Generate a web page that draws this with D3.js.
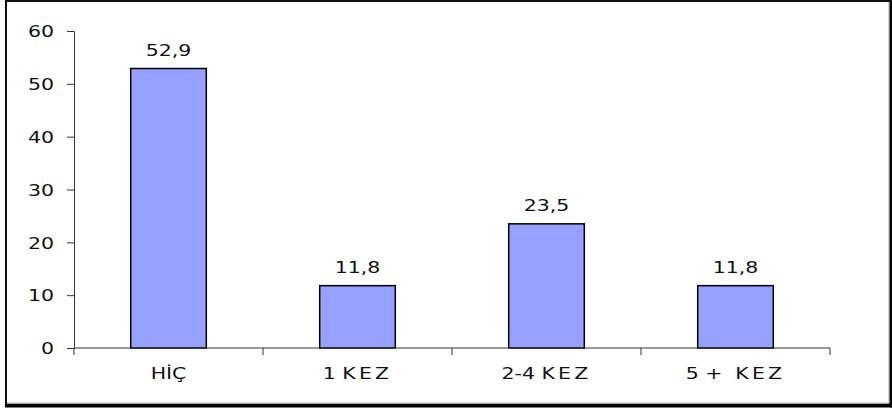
<!DOCTYPE html>
<html>
<head>
<meta charset="utf-8">
<script src="https://cdn.jsdelivr.net/npm/d3@7/dist/d3.min.js"></script>
<style>
  html, body { margin: 0; padding: 0; background: #fff; }
  svg text { font-family: "DejaVu Sans", Verdana, sans-serif; fill: #111; }
</style>
</head>
<body>
<svg id="chart" width="892" height="412"></svg>
<script>
// Category names (number part / spaced word part) and their percentages
const categories = ["HİÇ", "1 KEZ", "2-4 KEZ", "5 +  KEZ"];
const labelHead = ["HİÇ", "1 ", "2-4 ", "5 +  "];
const labelWord = ["", "KEZ", "KEZ", "KEZ"];
const values = [52.9, 11.8, 23.5, 11.8];
const valueLabels = ["52,9", "11,8", "23,5", "11,8"];
const yTicks = [0, 10, 20, 30, 40, 50, 60];

const svg = d3.select("#chart");
const stretch = 1.28; // wide glyphs
const fs = 16;

// Frame: thin gray inner edge on the right/bottom, heavier black outline there
svg.append("rect").attr("x", 6).attr("y", 1).attr("width", 884).attr("height", 403.5)
  .attr("fill", "#fff").attr("stroke", "#111").attr("stroke-width", 2);
svg.append("line").attr("x1", 889).attr("x2", 889).attr("y1", 2).attr("y2", 403)
  .attr("stroke", "#bbb").attr("stroke-width", 1.2);
svg.append("line").attr("x1", 7).attr("x2", 889).attr("y1", 403).attr("y2", 403)
  .attr("stroke", "#bbb").attr("stroke-width", 1.2);
svg.append("line").attr("x1", 891).attr("x2", 891).attr("y1", 0).attr("y2", 407.5)
  .attr("stroke", "#000").attr("stroke-width", 2);
svg.append("line").attr("x1", 5).attr("x2", 892).attr("y1", 406).attr("y2", 406)
  .attr("stroke", "#000").attr("stroke-width", 3);

const x0 = 74, x1 = 830, yBase = 348, yTop = 31;

const x = d3.scaleBand().domain(categories).range([x0, x1]).paddingInner(0.6).paddingOuter(0.3);
const xb = d3.scaleBand().domain(categories).range([x0, x1]);
const y = d3.scaleLinear().domain([0, 60]).range([yBase, yTop]);

// Bars
svg.append("g").selectAll("rect").data(values).join("rect")
  .attr("x", (d, i) => x(categories[i]))
  .attr("y", d => y(d))
  .attr("width", x.bandwidth())
  .attr("height", d => y(0) - y(d))
  .attr("fill", "#95A0FF")
  .attr("stroke", "#000")
  .attr("stroke-width", 1.5);

// Value labels
svg.append("g").selectAll("text").data(values).join("text")
  .attr("transform", (d, i) => `translate(${x(categories[i]) + x.bandwidth() / 2},${y(d) - 13}) scale(${stretch},1)`)
  .attr("text-anchor", "middle")
  .attr("font-size", fs)
  .text((d, i) => valueLabels[i]);

// Y axis
const yAxis = d3.axisLeft(y).tickValues(yTicks).tickSize(7).tickPadding(0).tickFormat(d3.format("d"));
const gy = svg.append("g").attr("transform", `translate(${x0},0)`).call(yAxis);
gy.select(".domain").attr("stroke", "#333");
gy.selectAll(".tick line").attr("stroke", "#333");
gy.selectAll(".tick text").remove();
gy.selectAll(".tick").append("text")
  .attr("transform", `translate(-20,0) scale(${stretch},1)`)
  .attr("text-anchor", "end")
  .attr("dy", "0.36em")
  .attr("font-size", fs)
  .attr("fill", "#111")
  .text(d => d);

// X axis with ticks at the band boundaries
const gx = svg.append("g").attr("transform", `translate(0,${yBase})`);
gx.append("line").attr("x1", x0).attr("x2", x1).attr("stroke", "#333");
const bounds = categories.map(c => xb(c)).concat([x1]);
gx.selectAll("line.tk").data(bounds).join("line").attr("class", "tk")
  .attr("x1", d => d).attr("x2", d => d).attr("y1", 0).attr("y2", 7).attr("stroke", "#333");

// Category labels
const cl = svg.append("g").selectAll("text").data(categories).join("text")
  .attr("transform", c => `translate(${xb(c) + xb.bandwidth() / 2},${yBase + 31}) scale(${stretch},1)`)
  .attr("text-anchor", "middle")
  .attr("font-size", fs);
cl.append("tspan").text((c, i) => labelHead[i]).style("white-space", "pre");
cl.append("tspan").attr("letter-spacing", 2.5).text((c, i) => labelWord[i]);
</script>
</body>
</html>
